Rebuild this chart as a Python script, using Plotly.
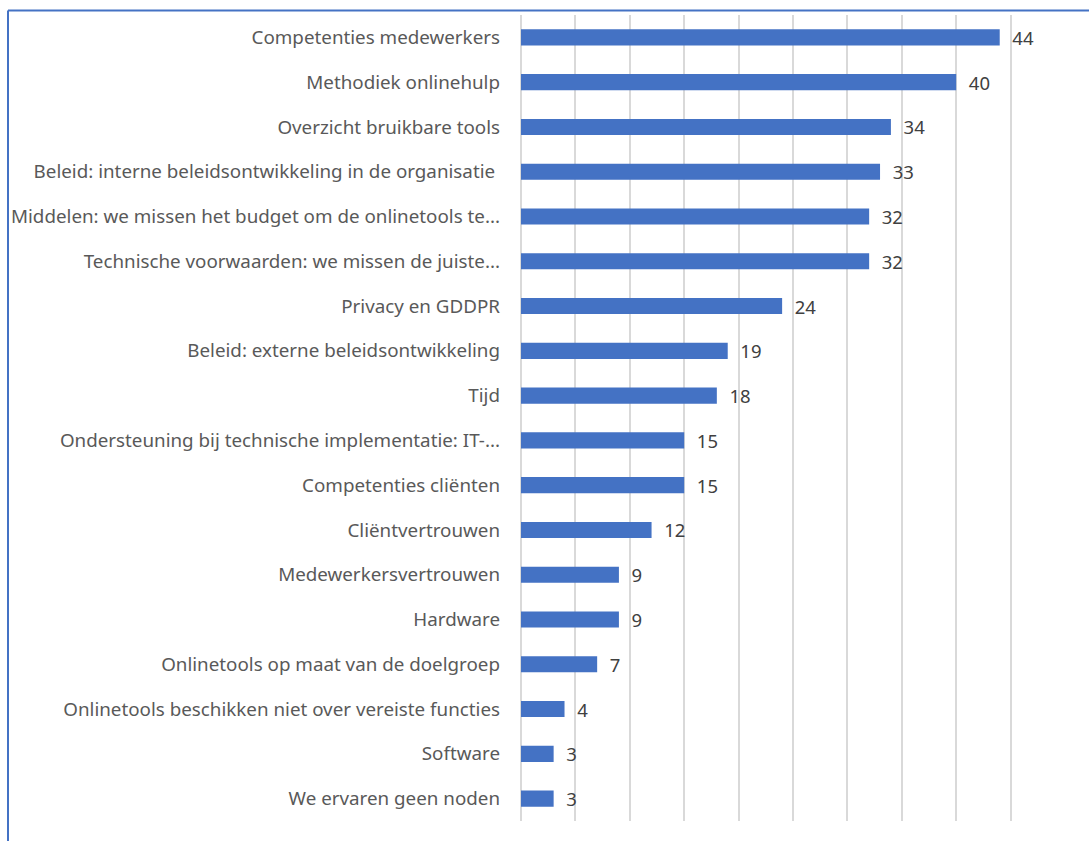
import plotly.graph_objects as go

categories = [
    "Competenties medewerkers",
    "Methodiek onlinehulp",
    "Overzicht bruikbare tools",
    "Beleid: interne beleidsontwikkeling in de organisatie ",
    "Middelen: we missen het budget om de onlinetools te...",
    "Technische voorwaarden: we missen de juiste...",
    "Privacy en GDDPR",
    "Beleid: externe beleidsontwikkeling",
    "Tijd",
    "Ondersteuning bij technische implementatie: IT-...",
    "Competenties cliënten",
    "Cliëntvertrouwen",
    "Medewerkersvertrouwen",
    "Hardware",
    "Onlinetools op maat van de doelgroep",
    "Onlinetools beschikken niet over vereiste functies",
    "Software",
    "We ervaren geen noden",
]
values = [44, 40, 34, 33, 32, 32, 24, 19, 18, 15, 15, 12, 9, 9, 7, 4, 3, 3]

BLUE = "#4472C4"
W, H = 1089, 841
ML, MR, MT, MB = 521, 24, 15, 20

fig = go.Figure(
    go.Bar(
        x=values,
        y=categories,
        orientation="h",
        marker=dict(color=BLUE, line=dict(width=0)),
        texttemplate="  %{x}",
        textposition="outside",
        constraintext="none",
        textfont=dict(family="Noto Sans", size=18.5, color="#404040"),
        cliponaxis=False,
    )
)

fig.update_layout(
    width=W,
    height=H,
    margin=dict(l=ML, r=MR, t=MT, b=MB, autoexpand=False),
    paper_bgcolor="white",
    plot_bgcolor="white",
    bargap=0.64,
    showlegend=False,
    font=dict(family="Noto Sans", size=18, color="#595959"),
)

fig.update_xaxes(
    range=[0, 50],
    dtick=5,
    showticklabels=False,
    showgrid=True,
    gridcolor="#D9D9D9",
    gridwidth=1.5,
    zeroline=True,
    zerolinecolor="#D9D9D9",
    zerolinewidth=1.5,
    showline=False,
)

fig.update_yaxes(
    autorange="reversed",
    ticklabelstandoff=20,
    showgrid=False,
    showline=False,
    tickfont=dict(family="Noto Sans", size=18.8, color="#595959"),
    automargin=False,
)

# Blue frame along the top and left edges of the chart area
pw, ph = W - ML - MR, H - MT - MB
fx = (8 - ML) / pw
fy = 1 + (MT - 10.5) / ph
fig.add_shape(type="line", xref="paper", yref="paper",
              x0=fx, x1=2, y0=fy, y1=fy, line=dict(color=BLUE, width=2))
fig.add_shape(type="line", xref="paper", yref="paper",
              x0=fx, x1=fx, y0=fy, y1=-1, line=dict(color=BLUE, width=2))

fig.write_html("out.html")
